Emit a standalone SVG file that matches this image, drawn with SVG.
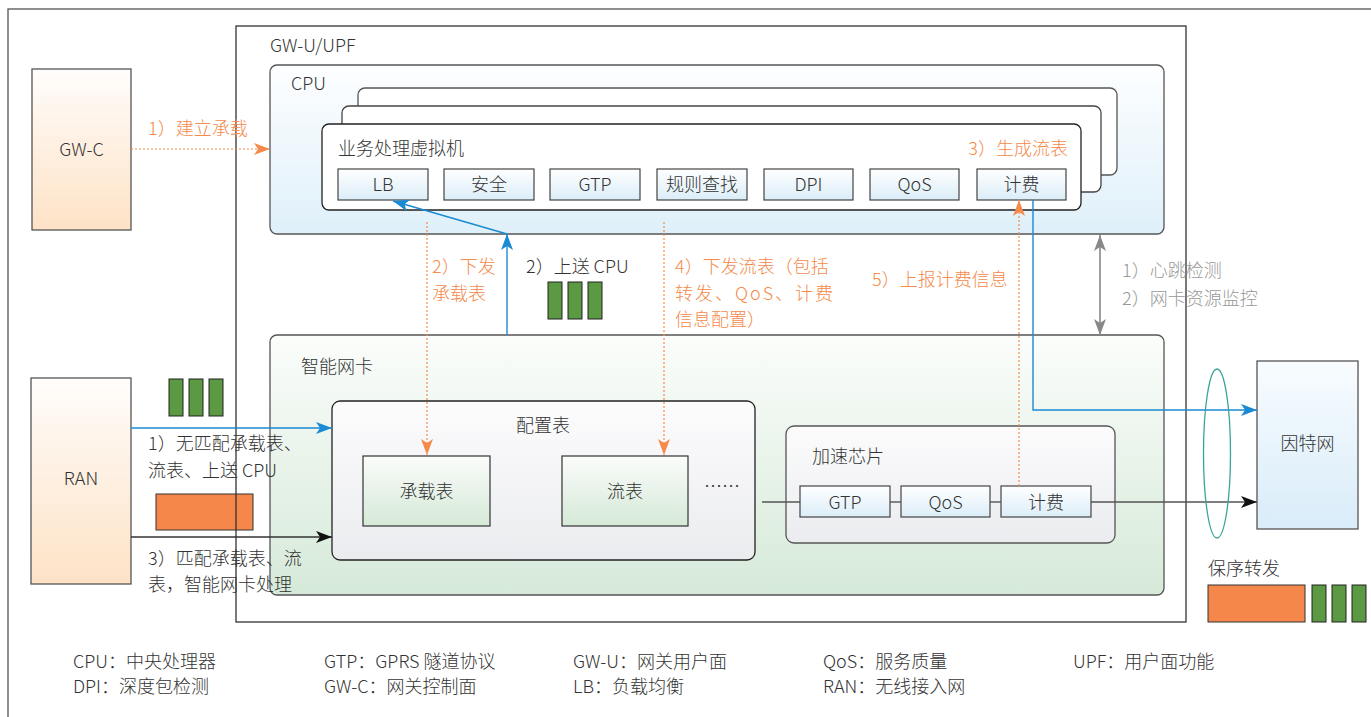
<svg xmlns="http://www.w3.org/2000/svg" width="1371" height="717" viewBox="0 0 1371 717">
<style>
text{font-family:"Noto Sans CJK SC","Noto Sans",sans-serif;font-size:18px;font-weight:300;fill:#333}
.c{text-anchor:middle}
.o{fill:#f58a4b}
.g{fill:#999}
.box{stroke:#555;stroke-width:1.3}
.mod{fill:url(#gMod);stroke:#444;stroke-width:1.2}
.pkg{fill:#5b9a42;stroke:#222;stroke-width:1}
.pko{fill:#f5874a;stroke:#333;stroke-width:1}
.dot{fill:none;stroke:#f58a4b;stroke-width:1.2;stroke-dasharray:2 2}
.blue{fill:none;stroke:#1a8ad4;stroke-width:1.4}
.blk{fill:none;stroke:#333;stroke-width:1.4}
.gry{fill:none;stroke:#888;stroke-width:1.6}
</style>
<defs>
<linearGradient id="gPeach" x1="0" y1="0" x2="0" y2="1"><stop offset="0" stop-color="#fffdfb"/><stop offset="1" stop-color="#fde2c6"/></linearGradient>
<linearGradient id="gCpu" x1="0" y1="0" x2="0" y2="1"><stop offset="0" stop-color="#fdfeff"/><stop offset="1" stop-color="#dff0fa"/></linearGradient>
<linearGradient id="gMod" x1="0" y1="0" x2="0" y2="1"><stop offset="0" stop-color="#ffffff"/><stop offset="1" stop-color="#dbedf8"/></linearGradient>
<linearGradient id="gNic" x1="0" y1="0" x2="0" y2="1"><stop offset="0" stop-color="#fbfdfb"/><stop offset="1" stop-color="#d6ead9"/></linearGradient>
<linearGradient id="gCfg" x1="0" y1="0" x2="0" y2="1"><stop offset="0" stop-color="#fcfcfd"/><stop offset="1" stop-color="#ebecef"/></linearGradient>
<linearGradient id="gTbl" x1="0" y1="0" x2="0" y2="1"><stop offset="0" stop-color="#fbfcfb"/><stop offset="1" stop-color="#d5e9d7"/></linearGradient>
<linearGradient id="gNet" x1="0" y1="0" x2="0" y2="1"><stop offset="0" stop-color="#f8fcff"/><stop offset="1" stop-color="#d9ecf9"/></linearGradient>
<marker id="aO" markerUnits="userSpaceOnUse" markerWidth="16" markerHeight="12" refX="16" refY="6" orient="auto"><path d="M0,0 L16,6 L0,12 L4,6 z" fill="#f58a4b"/></marker>
<marker id="aB" markerUnits="userSpaceOnUse" markerWidth="16" markerHeight="12" refX="16" refY="6" orient="auto"><path d="M0,0 L16,6 L0,12 L4,6 z" fill="#1a8ad4"/></marker>
<marker id="aK" markerUnits="userSpaceOnUse" markerWidth="16" markerHeight="12" refX="16" refY="6" orient="auto"><path d="M0,0 L16,6 L0,12 L4,6 z" fill="#111"/></marker>
<marker id="aG" markerUnits="userSpaceOnUse" markerWidth="16" markerHeight="12" refX="16" refY="6" orient="auto-start-reverse"><path d="M0,0 L16,6 L0,12 L4,6 z" fill="#888"/></marker>
</defs>

<rect id="frame" x="8" y="9" width="1400" height="720" fill="#fff" stroke="#555" stroke-width="1.3"/>

<g id="gwc">
<rect x="32" y="69" width="99" height="161" fill="url(#gPeach)" class="box"/>
<text x="81.5" y="156" class="c">GW-C</text>
</g>

<g id="ran">
<rect x="31" y="378" width="100" height="206" fill="url(#gPeach)" class="box"/>
<text x="81" y="485" class="c">RAN</text>
</g>

<g id="ran-packets">
<rect x="169" y="379" width="14" height="37" class="pkg"/>
<rect x="189" y="379" width="14" height="37" class="pkg"/>
<rect x="209" y="379" width="14" height="37" class="pkg"/>
<rect x="156" y="494" width="97" height="36" class="pko"/>
</g>

<g id="gwu">
<rect x="236" y="26" width="950" height="596" fill="none" stroke="#333" stroke-width="1.3"/>
<text x="270" y="52">GW-U/UPF</text>
</g>

<g id="cpu">
<rect x="270" y="65" width="894" height="169" rx="7" fill="url(#gCpu)" class="box"/>
<text x="291" y="90">CPU</text>
</g>

<g id="vm">
<rect x="358" y="88" width="759" height="87" rx="7" fill="#fff" class="box"/>
<rect x="342" y="106" width="759" height="86" rx="7" fill="#fff" stroke="#444" stroke-width="1.3"/>
<rect x="322" y="124" width="759" height="86" rx="7" fill="#fff" stroke="#222" stroke-width="1.3"/>
<text x="338" y="155">业务处理虚拟机</text>
<text x="1068" y="155" class="o" style="text-anchor:end">3）生成流表</text>
</g>

<g id="vm-modules">
<rect x="338" y="169" width="90" height="31" class="mod"/><text x="383" y="191" class="c">LB</text>
<rect x="444" y="169" width="90" height="31" class="mod"/><text x="489" y="191" class="c">安全</text>
<rect x="550" y="169" width="90" height="31" class="mod"/><text x="595" y="191" class="c">GTP</text>
<rect x="657" y="169" width="90" height="31" class="mod"/><text x="702" y="191" class="c">规则查找</text>
<rect x="764" y="169" width="89" height="31" class="mod"/><text x="808.5" y="191" class="c">DPI</text>
<rect x="870" y="169" width="89" height="31" class="mod"/><text x="914.5" y="191" class="c">QoS</text>
<rect x="977" y="169" width="89" height="31" class="mod"/><text x="1021.5" y="191" class="c">计费</text>
</g>

<g id="nic">
<rect x="270" y="335" width="894" height="260" rx="7" fill="url(#gNic)" class="box"/>
<text x="301" y="373">智能网卡</text>
</g>

<g id="config">
<rect x="332" y="401" width="423" height="159" rx="8" fill="url(#gCfg)" stroke="#222" stroke-width="1.3"/>
<text x="543" y="432" class="c">配置表</text>
<rect x="363" y="456" width="127" height="70" fill="url(#gTbl)" stroke="#333" stroke-width="1.2"/>
<text x="426.5" y="498" class="c">承载表</text>
<rect x="562" y="456" width="126" height="70" fill="url(#gTbl)" stroke="#333" stroke-width="1.2"/>
<text x="625" y="498" class="c">流表</text>
<text x="722" y="493" class="c">……</text>
</g>

<g id="chip">
<rect x="786" y="426" width="329" height="117" rx="8" fill="url(#gCfg)" class="box"/>
<text x="812" y="463">加速芯片</text>
<rect x="800" y="486" width="90" height="31" class="mod"/><text x="845" y="509" class="c">GTP</text>
<rect x="901" y="486" width="89" height="31" class="mod"/><text x="945.5" y="509" class="c">QoS</text>
<rect x="1001" y="486" width="90" height="31" class="mod"/><text x="1046" y="509" class="c">计费</text>
</g>

<g id="internet">
<rect x="1257" y="361" width="101" height="168" fill="url(#gNet)" class="box"/>
<text x="1307.5" y="450" class="c">因特网</text>
</g>

<g id="order">
<text x="1208" y="575">保序转发</text>
<rect x="1208" y="585" width="97" height="37" class="pko"/>
<rect x="1312" y="585" width="14" height="37" class="pkg"/>
<rect x="1332" y="585" width="14" height="37" class="pkg"/>
<rect x="1352" y="585" width="14" height="37" class="pkg"/>
</g>

<g id="connectors">
<line x1="131" y1="149" x2="270" y2="149" class="dot" marker-end="url(#aO)"/>
<line x1="507" y1="335" x2="507" y2="234" class="blue" marker-end="url(#aB)"/>
<line x1="507" y1="234" x2="393" y2="201" class="blue" marker-end="url(#aB)"/>
<line x1="427" y1="222" x2="427" y2="455" class="dot" marker-end="url(#aO)"/>
<line x1="664" y1="222" x2="664" y2="455" class="dot" marker-end="url(#aO)"/>
<line x1="1019" y1="486" x2="1019" y2="200" class="dot" marker-end="url(#aO)"/>
<polyline points="1033,200 1033,410 1257,410" class="blue" marker-end="url(#aB)"/>
<line x1="1100" y1="235" x2="1100" y2="335" class="gry" marker-start="url(#aG)" marker-end="url(#aG)"/>
<line x1="131" y1="428" x2="332" y2="428" class="blue" marker-end="url(#aB)"/>
<line x1="131" y1="537" x2="332" y2="537" class="blk" marker-end="url(#aK)"/>
<line x1="762" y1="502" x2="800" y2="502" stroke="#555" stroke-width="1.4"/>
<line x1="890" y1="502" x2="901" y2="502" stroke="#555" stroke-width="1.4"/>
<line x1="990" y1="502" x2="1001" y2="502" stroke="#555" stroke-width="1.4"/>
<line x1="1091" y1="502" x2="1257" y2="502" stroke="#555" stroke-width="1.4" marker-end="url(#aK)"/>
<ellipse cx="1217" cy="453.5" rx="13.5" ry="84.5" fill="none" stroke="#3aa597" stroke-width="1.3"/>
</g>

<g id="labels">
<text x="148" y="135" class="o">1）建立承载</text>
<text x="432" y="273" class="o">2）下发</text>
<text x="432" y="300" class="o">承载表</text>
<text x="526" y="273">2）上送 CPU</text>
<rect x="548" y="282" width="14" height="37" class="pkg"/>
<rect x="568" y="282" width="14" height="37" class="pkg"/>
<rect x="588" y="282" width="14" height="37" class="pkg"/>
<text x="675" y="273" class="o">4）下发流表（包括</text>
<text x="675" y="300" class="o" textLength="158" lengthAdjust="spacing">转发、QoS、计费</text>
<text x="675" y="326" class="o">信息配置）</text>
<text x="872" y="286" class="o">5）上报计费信息</text>
<text x="1122" y="277" class="g">1）心跳检测</text>
<text x="1122" y="305" class="g">2）网卡资源监控</text>
<text x="148" y="450">1）无匹配承载表、</text>
<text x="148" y="477">流表、上送 CPU</text>
<text x="148" y="565">3）匹配承载表、流</text>
<text x="148" y="591">表，智能网卡处理</text>
</g>

<g id="legend">
<text x="73" y="668">CPU：中央处理器</text>
<text x="73" y="693">DPI：深度包检测</text>
<text x="324" y="668">GTP：GPRS 隧道协议</text>
<text x="324" y="693">GW-C：网关控制面</text>
<text x="573" y="668">GW-U：网关用户面</text>
<text x="573" y="693">LB：负载均衡</text>
<text x="823" y="668">QoS：服务质量</text>
<text x="823" y="693">RAN：无线接入网</text>
<text x="1073" y="668">UPF：用户面功能</text>
</g>
</svg>
